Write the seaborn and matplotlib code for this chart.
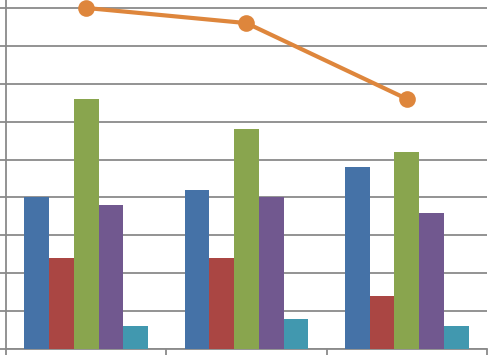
import pandas as pd
import seaborn as sns
import matplotlib.pyplot as plt

# valores (unidades de la cuadricula)
categorias = ["A", "B", "C"]
serie1 = [4.0, 4.2, 4.8]
serie2 = [2.4, 2.4, 1.4]
serie3 = [6.6, 5.8, 5.2]
serie4 = [3.8, 4.0, 3.6]
serie5 = [0.6, 0.8, 0.6]
linea = [9.0, 8.6, 6.6]

nombres = ["S1", "S2", "S3", "S4", "S5"]
colores = ["#4572A7", "#AA4643", "#89A54E", "#71588F", "#4198AF"]

df = pd.DataFrame({
    "categoria": categorias * 5,
    "serie": [n for n in nombres for _ in categorias],
    "valor": serie1 + serie2 + serie3 + serie4 + serie5,
})

fig = plt.figure(figsize=(4.89, 3.55), dpi=100)
ax = fig.add_axes([6 / 489, 6 / 355, 481 / 489, 349 / 355])

sns.barplot(data=df, x="categoria", y="valor", hue="serie", palette=colores,
            width=0.77, saturation=1, legend=False, ax=ax, zorder=3)

sns.lineplot(x=[0, 1, 2], y=linea, color="#DE863C", linewidth=3, marker="o",
             markersize=12, markeredgewidth=0, ax=ax, zorder=4)

ax.set_xlim(-0.5, 2.5)
ax.set_ylim(0, 9.21)
ax.set_yticks(range(10))
ax.set_yticklabels([])
ax.set_xticks([-0.5, 0.5, 1.5, 2.5])
ax.set_xticklabels([])
ax.set_xlabel("")
ax.set_ylabel("")
ax.grid(axis="y", color="#8a8a8a", linewidth=1.3, zorder=0)
ax.set_axisbelow(True)

for lado in ["top", "right"]:
    ax.spines[lado].set_visible(False)
for lado in ["left", "bottom"]:
    ax.spines[lado].set_color("#8a8a8a")
    ax.spines[lado].set_linewidth(1.3)
ax.tick_params(axis="both", color="#8a8a8a", width=1.3, length=6, direction="out")

fig.savefig("out.png", dpi=100)
